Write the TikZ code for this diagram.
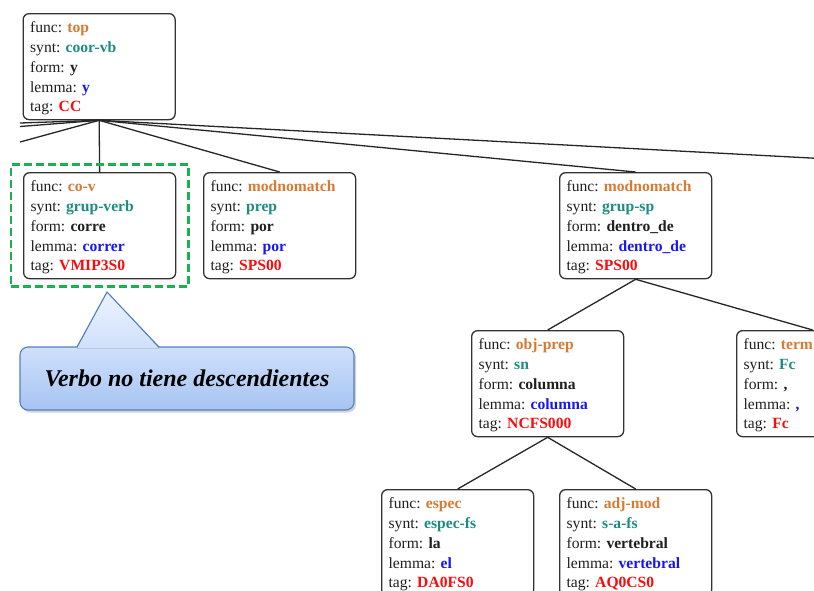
\documentclass[tikz,border=0pt]{standalone}
\usepackage{fontspec}
\setmainfont{Liberation Serif}
\usetikzlibrary{fit,shadows}

\definecolor{funccol}{RGB}{214,122,52}
\definecolor{syntcol}{RGB}{28,140,128}
\definecolor{lemmacol}{RGB}{22,22,245}
\definecolor{tagcol}{RGB}{250,12,12}
\definecolor{framecol}{RGB}{50,50,50}
\definecolor{markgreen}{RGB}{24,178,80}
\definecolor{noteedge}{RGB}{82,128,190}
\definecolor{notetop}{RGB}{236,243,254}
\definecolor{notemid}{RGB}{208,224,251}
\definecolor{notebot}{RGB}{166,196,242}

% one word of the parse: func, synt, form, lemma, tag
\newcommand{\feats}[5]{%
  \rule{0pt}{15pt}func: \textbf{\color{funccol}#1}\\
  synt: \textbf{\color{syntcol}#2}\\
  form: \textbf{#3}\\
  lemma: \textbf{\color{lemmacol}#4}\\
  tag: \textbf{\color{tagcol}#5}}

\tikzset{
  word/.style={draw=framecol, line width=1.3pt, rounded corners=6pt,
    anchor=north west, align=flush left, text width=138pt, inner xsep=7pt,
    inner ysep=0pt, minimum height=106pt, text=black!88,
    font=\fontsize{15.6}{19.75}\selectfont},
  dep/.style={line width=1.3pt, black!85},
  markbox/.style={draw=markgreen, line width=2.8pt, dash pattern=on 8pt off 4pt,
    inner xsep=12pt, inner ysep=7.5pt},
  note/.style={draw=noteedge, line width=1.1pt, rounded corners=8pt,
    top color=notemid, bottom color=notebot,
    drop shadow={opacity=0.35, shadow xshift=2pt, shadow yshift=-2.5pt},
    minimum width=334pt, minimum height=63pt,
    font=\fontsize{24}{28}\selectfont\bfseries\itshape}
}

\begin{document}
\begin{tikzpicture}[x=1pt, y=-1pt]

  \clip (0,0) rectangle (814,590);

  % Draw the words of the tree
  \node[word] (top)   at (22.5,13) {\feats{top}{coor-vb}{y}{y}{CC}};
  \node[word] (cov)   at (23,172)  {\feats{co-v}{grup-verb}{corre}{correr}{VMIP3S0}};
  \node[word] (mod1)  at (203,172) {\feats{modnomatch}{prep}{por}{por}{SPS00}};
  \node[word] (mod2)  at (559,172) {\feats{modnomatch}{grup-sp}{dentro\_de}{dentro\_de}{SPS00}};
  \node[word] (obj)   at (471,330) {\feats{obj-prep}{sn}{columna}{columna}{NCFS000}};
  \node[word] (term)  at (736,330) {\feats{term}{Fc}{,}{,}{Fc}};
  \node[word] (espec) at (381,489) {\feats{espec}{espec-fs}{la}{el}{DA0FS0}};
  \node[word] (adj)   at (559,489) {\feats{adj-mod}{s-a-fs}{vertebral}{vertebral}{AQ0CS0}};

  % branches that leave the visible part
  \coordinate (lft1) at (20,123);
  \coordinate (lft2) at (20,126.5);
  \coordinate (lft3) at (20,142);
  \coordinate (rgt1) at (820,158.5);

  % Draw the dependencies
  \draw[dep] (top.south) -- (lft1);
  \draw[dep] (top.south) -- (lft2);
  \draw[dep] (top.south) -- (lft3);
  \draw[dep] (top.south) -- (cov.north);
  \draw[dep] (top.south) -- (mod1.north);
  \draw[dep] (top.south) -- (mod2.north);
  \draw[dep] (top.south) -- (rgt1);
  \draw[dep] (mod2.south) -- (obj.north);
  \draw[dep] (mod2.south) -- (term.north);
  \draw[dep] (obj.south) -- (espec.north);
  \draw[dep] (obj.south) -- (adj.north);

  % the verb without children
  \node[markbox, fit=(cov)] (covmark) {};

  % callout with its pointer
  \node[note] (remark) at (187,378.5) {Verbo no tiene descendientes};
  \fill[top color=notetop, bottom color=notemid] (77,348.2) -- (107,292) -- (159,348.2) -- cycle;
  \draw[noteedge, line width=1.1pt, line join=round] (77,347) -- (107,292) -- (159,347);

\end{tikzpicture}
\end{document}
